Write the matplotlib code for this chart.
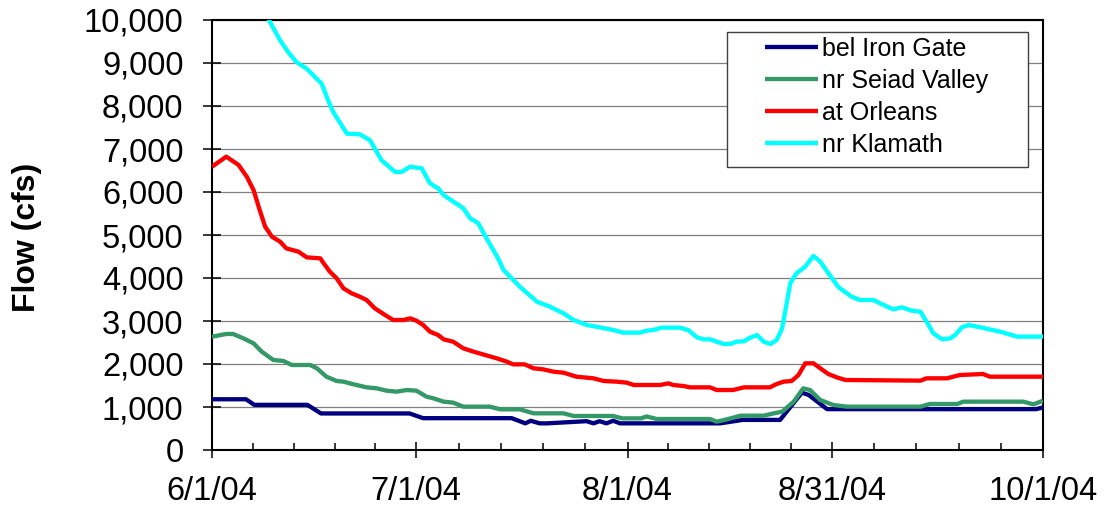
import numpy as np
import matplotlib
matplotlib.use("Agg")
import matplotlib.pyplot as plt
import matplotlib.dates as mdates
from matplotlib.patches import Rectangle
import datetime as dt

plt.rcParams["font.family"] = ["Liberation Sans", "DejaVu Sans"]

# Daily flow records (days after 6/1/04, flow in cfs)
iron_gate_days = [0, 5, 6.2, 14, 16, 29, 31, 44, 46, 46.8, 48.1, 49.2, 55.0, 56.0, 56.9,
                  57.9, 58.9, 59.9, 74.6, 77.9, 83.4, 86.6, 87.6, 90.3, 121, 122]
iron_gate_flow = [1180, 1180, 1050, 1050, 850, 850, 740, 740, 620, 680, 620, 620, 670, 620, 670,
                  620, 680, 620, 620, 700, 700, 1333, 1280, 950, 950, 990]

seiad_days = [0, 2.1, 3.1, 4.6, 6.1, 7.3, 9.0, 10.5, 11.7, 14.4, 15.4, 16.8, 18.3, 19.3, 20.8,
              22.7, 24.2, 25.6, 27.1, 28.6, 30.0, 31.5, 32.5, 34.0, 35.4, 36.9, 40.8, 42.3,
              45.2, 47.2, 51.6, 53.1, 58.9, 60.2, 63.0, 63.8, 65.3, 73.1, 74.1, 75.6, 77.6,
              81.0, 82.5, 83.7, 85.4, 86.8, 87.8, 89.3, 91.2, 93.2, 104.0, 105.4, 109.4,
              110.3, 119.1, 120.6, 122]
seiad_flow = [2636, 2698, 2698, 2597, 2481, 2287, 2093, 2070, 1977, 1977, 1900, 1705, 1605, 1589,
              1527, 1457, 1434, 1380, 1357, 1395, 1380, 1240, 1202, 1124, 1101, 1008, 1008, 946,
              946, 853, 853, 791, 791, 736, 736, 780, 721, 721, 659, 713, 798,
              798, 853, 891, 1124, 1434, 1395, 1163, 1047, 1008, 1008, 1070, 1070,
              1124, 1124, 1062, 1147]

orleans_days = [0, 2.1, 3.9, 5.1, 6.1, 7.0, 7.8, 8.8, 10.0, 10.9, 12.7, 13.9, 15.9, 16.4, 17.3,
                18.3, 19.3, 20.5, 21.7, 22.7, 23.9, 25.4, 26.6, 28.1, 29.1, 30.0, 31.0, 32.0,
                33.2, 34.0, 35.4, 36.9, 38.4, 40.1, 41.8, 43.3, 44.2, 45.9, 47.2, 48.6, 50.1,
                51.6, 53.5, 56.0, 57.5, 59.4, 60.9, 61.9, 65.8, 67.0, 67.7, 69.2, 70.2, 73.1,
                74.1, 76.5, 78.1, 81.9, 82.9, 83.9, 85.1, 86.1, 87.1, 88.3, 89.3, 90.5, 91.7,
                93.0, 104.0, 104.9, 107.9, 109.8, 113.2, 114.2, 122]
orleans_flow = [6589, 6822, 6628, 6357, 6047, 5581, 5194, 4961, 4845, 4690, 4612, 4480, 4457, 4341,
                4147, 3992, 3760, 3643, 3566, 3488, 3295, 3140, 3023, 3023, 3062, 3008, 2907, 2752,
                2674, 2574, 2519, 2364, 2287, 2209, 2132, 2054, 1992, 1992, 1900, 1876, 1822,
                1798, 1705, 1667, 1605, 1589, 1566, 1512, 1512, 1550, 1512, 1488, 1457, 1457,
                1395, 1395, 1457, 1457, 1535, 1589, 1605, 1744, 2016, 2016, 1900, 1767, 1690,
                1628, 1613, 1667, 1667, 1744, 1767, 1705, 1705]

klamath_days = [7.5, 8.5, 10.0, 11.2, 12.4, 13.9, 16.1, 17.0, 17.8, 19.8, 21.7, 23.2, 24.9, 26.9,
                27.8, 29.1, 30.8, 32.0, 33.2, 34.0, 36.9, 37.9, 39.1, 40.3, 42.0, 42.8, 45.2,
                47.7, 49.6, 51.6, 53.1, 55.0, 56.9, 58.9, 60.4, 62.8, 63.8, 64.8, 66.0, 68.7,
                69.9, 71.2, 72.2, 73.1, 75.1, 76.1, 77.0, 78.1, 78.8, 80.0, 81.0, 82.0, 82.9,
                83.7, 84.1, 84.9, 85.8, 87.1, 88.3, 89.3, 90.5, 92.0, 93.9, 95.1, 97.1, 98.3,
                100.0, 101.3, 102.7, 104.0, 105.2, 105.9, 107.2, 108.4, 109.1, 110.1, 111.1,
                112.8, 115.7, 116.9, 118.2, 122.0]
klamath_flow = [10300, 9960, 9527, 9250, 9023, 8868, 8519, 8150, 7860, 7357, 7341, 7202, 6736, 6465,
                6465, 6589, 6550, 6202, 6085, 5930, 5620, 5388, 5271, 4922, 4457, 4186, 3798,
                3450, 3333, 3178, 3023, 2907, 2853, 2791, 2729, 2729, 2775, 2791, 2845, 2845,
                2791, 2620, 2574, 2574, 2465, 2465, 2519, 2527, 2597, 2674, 2519, 2465, 2558,
                2829, 3178, 3876, 4109, 4264, 4512, 4380, 4109, 3783, 3566, 3488, 3488, 3395,
                3271, 3318, 3240, 3217, 2907, 2713, 2574, 2597, 2674, 2853, 2907,
                2853, 2752, 2698, 2636, 2636]

series_names = ["bel Iron Gate", "nr Seiad Valley", "at Orleans", "nr Klamath"]
series_colors = ["#000080", "#339966", "#FF0000", "#00FFFF"]

tick_dates = ["2004-06-01", "2004-07-01", "2004-08-01", "2004-08-31", "2004-10-01"]
tick_labels = ["6/1/04", "7/1/04", "8/1/04", "8/31/04", "10/1/04"]
y_ticks = list(range(0, 10001, 1000))

start = mdates.date2num(dt.date(2004, 6, 1))

fig = plt.figure(figsize=(11.04, 5.13), dpi=100)
ax = fig.add_axes([212 / 1104, 63 / 513, 831 / 1104, 430 / 513])

series = [(iron_gate_days, iron_gate_flow), (seiad_days, seiad_flow),
          (orleans_days, orleans_flow), (klamath_days, klamath_flow)]
handles = []
for (d, q), name, color in zip(series, series_names, series_colors):
    h, = ax.plot(start + np.asarray(d), q, color=color, lw=3.1, label=name,
                 solid_joinstyle="round", solid_capstyle="butt", zorder=3)
    handles.append(h)

major = [mdates.date2num(dt.date.fromisoformat(s)) for s in tick_dates]
ax.set_xlim(major[0], major[-1])
ax.set_ylim(0, 10000)

ax.set_xticks(major)
ax.set_xticklabels(tick_labels)
minor = []
for a, b in zip(major[:-1], major[1:]):
    minor.extend(np.linspace(a, b, 6)[1:-1])
ax.set_xticks(minor, minor=True)

ax.set_yticks(y_ticks)
ax.set_yticklabels([f"{v:,}" for v in y_ticks])

ax.grid(axis="y", color="#808080", lw=0.9, zorder=1)
ax.set_axisbelow(True)

for s in ax.spines.values():
    s.set_color("black")
    s.set_linewidth(1.5)

ax.tick_params(axis="y", which="major", direction="inout", length=13, width=1.1,
               labelsize=23.5, pad=14)
ax.tick_params(axis="x", which="major", direction="inout", length=11.5, width=1.1,
               labelsize=23.5, pad=13)
ax.tick_params(axis="x", which="minor", direction="in", length=5, width=1.1)

fig.text(27 / 1104, 1 - 237 / 513, "Flow (cfs)", rotation=90, fontsize=23,
         fontweight="bold", ha="center", va="center")

# legend box
fig.add_artist(Rectangle((727 / 1104, 1 - 167 / 513), 301 / 1104, 135 / 513,
                         transform=fig.transFigure, facecolor="white",
                         edgecolor="#404040", lw=1.0, zorder=4))
fig.legend(handles=handles, loc="upper left", bbox_to_anchor=(765 / 1104, 1 - 37 / 513),
           bbox_transform=fig.transFigure, frameon=False, fontsize=18, borderpad=0,
           borderaxespad=0, handlelength=2.1, handletextpad=0.2, labelspacing=0.32)

fig.savefig("out.png", dpi=100)
